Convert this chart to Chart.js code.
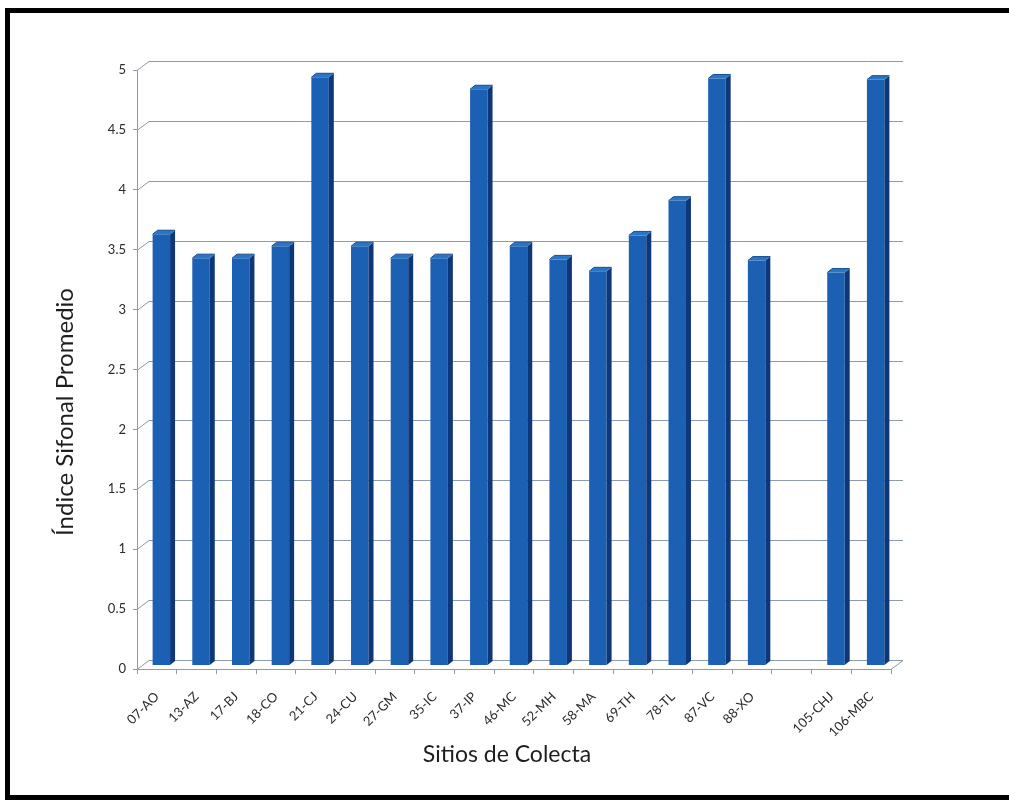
<!DOCTYPE html>
<html>
<head>
<meta charset="utf-8">
<script src="https://cdn.jsdelivr.net/npm/chart.js@4/dist/chart.umd.min.js"></script>
<style>
  html, body { margin: 0; background: #fff; overflow: hidden; }
  #chart { display: block; }
</style>
</head>
<body>
<canvas id="chart" width="1009" height="800"></canvas>
<script>
const sitios = ["07-AO", "13-AZ", "17-BJ", "18-CO", "21-CJ", "24-CU", "27-GM", "35-IC", "37-IP",
  "46-MC", "52-MH", "58-MA", "69-TH", "78-TL", "87-VC", "88-XO", "", "105-CHJ", "106-MBC"];
const indiceSifonal = [3.6, 3.4, 3.4, 3.5, 4.91, 3.5, 3.4, 3.4, 4.81,
  3.5, 3.39, 3.29, 3.59, 3.88, 4.9, 3.38, null, 3.28, 4.89];
const yMin = 0;
const yMax = 5;
const yStep = 0.5;
const xTitle = "Sitios de Colecta";
const yTitle = "Índice Sifonal Promedio";

const gridColor = "#8e9aae";
const textColor = "#2b2b2b";
const font = "Lato, 'Open Sans', sans-serif";

// depth of the back wall and of each column
const WALL_X = 12, WALL_Y = 9;
const BAR_X = 4.5, BAR_Y = 3.5;
const SIDE_X = 5, SIDE_Y = 4;

// black frame on the left, top and bottom of the figure
const frame = {
  id: "frame",
  beforeDraw(chart) {
    const { ctx, width, height } = chart;
    ctx.save();
    ctx.fillStyle = "#fff";
    ctx.fillRect(0, 0, width, height);
    ctx.fillStyle = "#000";
    ctx.fillRect(5, 8, width - 5, 5);
    ctx.fillRect(5, 8, 5, height - 8);
    ctx.fillRect(5, height - 5, width - 5, 5);
    ctx.restore();
  }
};

const backWalls = {
  id: "backWalls",
  beforeDatasetsDraw(chart) {
    const { ctx, chartArea: a, scales: { y } } = chart;
    ctx.save();
    ctx.strokeStyle = gridColor;
    ctx.lineWidth = 1;
    ctx.beginPath();
    y.ticks.forEach(t => {
      const py = Math.round(y.getPixelForValue(t.value)) + 0.5;
      ctx.moveTo(a.left, py);
      ctx.lineTo(a.left + WALL_X, py - WALL_Y);
      ctx.lineTo(a.right + WALL_X, py - WALL_Y);
    });
    const fy = Math.round(a.bottom) + 0.5;
    ctx.moveTo(a.right, fy);
    ctx.lineTo(a.right + WALL_X, fy - WALL_Y);
    ctx.stroke();
    ctx.restore();
  }
};

const columns3d = {
  id: "columns3d",
  beforeDatasetDraw(chart) {
    chart.ctx.save();
    chart.ctx.translate(BAR_X, -BAR_Y);
  },
  afterDatasetDraw(chart, args) {
    const ctx = chart.ctx;
    args.meta.data.forEach((bar, i) => {
      if (indiceSifonal[i] == null) return;
      const { x, y, base, width } = bar.getProps(["x", "y", "base", "width"], true);
      const l = x - width / 2, r = x + width / 2;
      // right side
      ctx.fillStyle = "#0e377a";
      ctx.beginPath();
      ctx.moveTo(r, y);
      ctx.lineTo(r + SIDE_X, y - SIDE_Y);
      ctx.lineTo(r + SIDE_X, base - SIDE_Y);
      ctx.lineTo(r, base);
      ctx.closePath();
      ctx.fill();
      // top
      ctx.fillStyle = "#2b76c2";
      ctx.beginPath();
      ctx.moveTo(l, y);
      ctx.lineTo(l + SIDE_X, y - SIDE_Y);
      ctx.lineTo(r + SIDE_X, y - SIDE_Y);
      ctx.lineTo(r, y);
      ctx.closePath();
      ctx.fill();
      ctx.strokeStyle = "#164c92";
      ctx.lineWidth = 1;
      ctx.beginPath();
      ctx.moveTo(l, y);
      ctx.lineTo(l + SIDE_X, y - SIDE_Y);
      ctx.lineTo(r + SIDE_X, y - SIDE_Y);
      ctx.stroke();
    });
    ctx.restore();
  }
};

// axis titles, placed by hand around the plot
const axisTitles = {
  id: "axisTitles",
  afterDraw(chart) {
    const ctx = chart.ctx;
    ctx.save();
    ctx.fillStyle = "#1e1e1e";
    ctx.textAlign = "center";
    ctx.textBaseline = "middle";
    ctx.font = "23px " + font;
    ctx.fillText(xTitle, 507, 755);
    ctx.translate(65, 412);
    ctx.rotate(-Math.PI / 2);
    ctx.font = "24px " + font;
    ctx.fillText(yTitle, 0, 0);
    ctx.restore();
  }
};

function frontFace(context) {
  const bar = context.element;
  if (!bar || bar.x == null || !isFinite(bar.x)) return "#1b60b2";
  const g = context.chart.ctx.createLinearGradient(bar.x - bar.width / 2, 0, bar.x + bar.width / 2, 0);
  g.addColorStop(0, "#2871bf");
  g.addColorStop(0.5, "#1b60b2");
  g.addColorStop(1, "#1856a3");
  return g;
}

new Chart(document.getElementById("chart"), {
  type: "bar",
  data: {
    labels: sitios,
    datasets: [{
      label: yTitle,
      data: indiceSifonal,
      backgroundColor: frontFace,
      borderWidth: 0,
      barPercentage: 0.44,
      categoryPercentage: 1
    }]
  },
  options: {
    responsive: false,
    animation: false,
    layout: { padding: { top: 70, right: 118, left: 0, bottom: 0 } },
    plugins: {
      legend: { display: false },
      tooltip: { enabled: false }
    },
    scales: {
      x: {
        offset: true,
        grid: { display: true, drawOnChartArea: false, offset: true, tickLength: 5, color: gridColor },
        border: { color: gridColor },
        ticks: {
          autoSkip: false, maxRotation: 45, minRotation: 45, padding: 15,
          color: textColor, font: { family: font, size: 13 }
        },
        afterFit(scale) { scale.height = 131; }
      },
      y: {
        min: yMin,
        max: yMax,
        ticks: {
          stepSize: yStep, padding: 7, color: textColor, font: { family: font, size: 13 },
          callback: v => String(v)
        },
        grid: { display: true, drawOnChartArea: false, tickLength: 4, color: gridColor },
        border: { color: gridColor },
        afterFit(scale) { scale.width = 137; }
      }
    }
  },
  plugins: [frame, backWalls, columns3d, axisTitles]
});
</script>
</body>
</html>
